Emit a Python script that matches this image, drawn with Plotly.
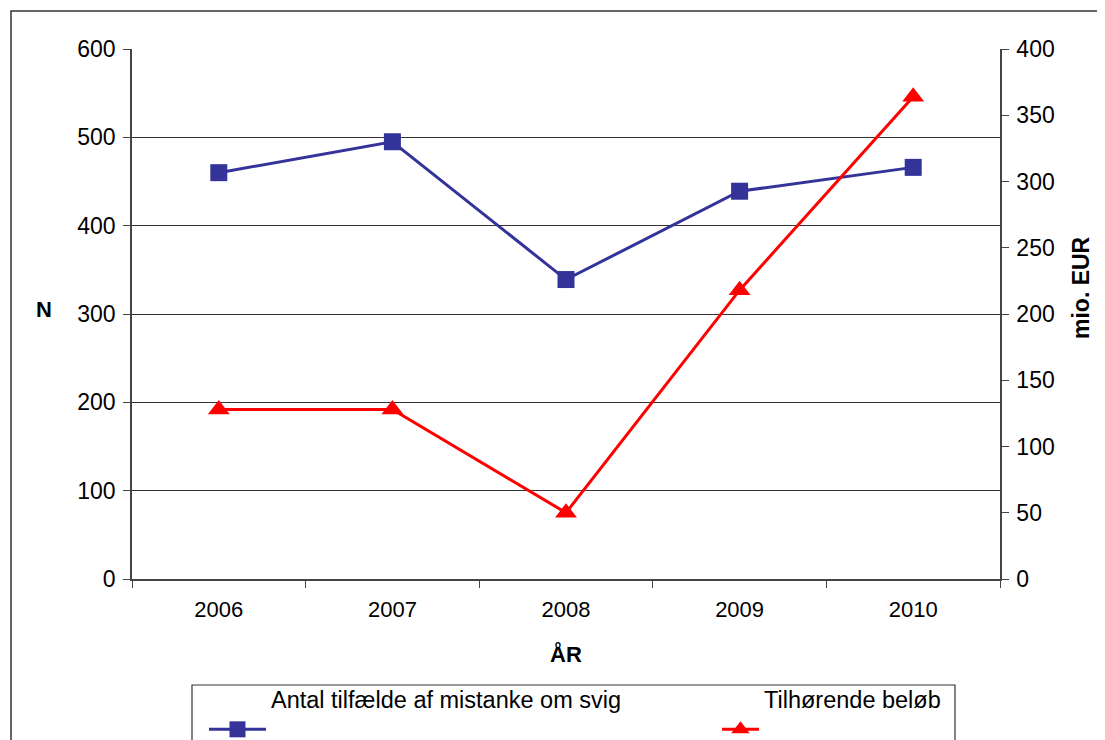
import plotly.graph_objects as go

years = ["2006", "2007", "2008", "2009", "2010"]
cases = [460, 495, 339, 439, 466]
amounts = [128, 128, 50, 218, 364]
left_ticks = [0, 100, 200, 300, 400, 500, 600]
right_ticks = [0, 50, 100, 150, 200, 250, 300, 350, 400]

FONT = "Liberation Sans, Arial, sans-serif"
FS = 23

# page has an 8px body margin; work in reference pixel coords and shift
OFF = 8
W, H = 1097, 732
L, R, T, B = 132 - OFF, 105, 49 - OFF, 161
pw, ph = W - L - R, H - T - B


def px(x):
    return (x - OFF - L) / pw


def py(y):
    return (H - B - (y - OFF)) / ph


fig = go.Figure()
fig.add_trace(go.Scatter(
    x=years, y=cases, name="Antal tilfælde af mistanke om svig<br> ",
    mode="lines+markers", legend="legend",
    line=dict(color="#333399", width=3),
    marker=dict(symbol="square", size=17, color="#333399"),
))
fig.add_trace(go.Scatter(
    x=years, y=amounts, name="Tilhørende beløb<br> ", yaxis="y2",
    mode="lines+markers", legend="legend2",
    line=dict(color="#FF0000", width=3),
    marker=dict(symbol="triangle-up", size=19, color="#FF0000"),
))

legend_common = dict(
    orientation="h", xanchor="left", yanchor="top",
    bgcolor="rgba(0,0,0,0)", borderwidth=0,
    font=dict(size=23.5, family=FONT), valign="bottom",
)

fig.update_layout(
    width=W, height=H,
    margin=dict(l=L, r=R, t=T, b=B, autoexpand=False),
    paper_bgcolor="white", plot_bgcolor="white",
    font=dict(family=FONT, size=FS, color="black"),
    showlegend=True,
    xaxis=dict(
        type="category", range=[-0.5, 4.5],
        showline=True, linecolor="#444", linewidth=2,
        ticks="outside", ticklen=7, tickcolor="#444",
        tickson="boundaries", showgrid=False,
        tickfont=dict(size=22), ticklabelstandoff=10,
        title=dict(text="<b>ÅR</b>", font=dict(size=22), standoff=25),
    ),
    yaxis=dict(
        range=[0, 600], tickvals=left_ticks,
        showline=True, linecolor="#444", linewidth=1.5,
        ticks="outside", ticklen=7, tickcolor="#444",
        showgrid=True, gridcolor="#333", gridwidth=1,
        zeroline=False, tickfont=dict(size=FS), ticklabelstandoff=3,
    ),
    yaxis2=dict(
        overlaying="y", side="right",
        range=[0, 400], tickvals=right_ticks,
        showline=True, linecolor="#444", linewidth=1.5,
        ticks="outside", ticklen=7, tickcolor="#444",
        showgrid=False, zeroline=False, tickfont=dict(size=FS),
        ticklabelstandoff=3,
    ),
    legend=dict(x=px(204), y=py(677), itemwidth=57, **legend_common),
    legend2=dict(x=px(717), y=py(677), itemwidth=37, **legend_common),
    annotations=[
        dict(text="<b>N</b>", x=px(44), y=py(309), xref="paper", yref="paper",
             xanchor="center", yanchor="middle",
             showarrow=False, font=dict(size=22)),
        dict(text="<b>mio. EUR</b>", x=px(1081), y=py(288), xref="paper", yref="paper",
             xanchor="center", yanchor="middle", textangle=-90,
             showarrow=False, font=dict(size=23)),
    ],
    shapes=[
        dict(type="rect", xref="paper", yref="paper",
             x0=px(11), x1=px(1250), y0=py(11), y1=py(820),
             line=dict(color="#333", width=1.5), layer="below"),
        dict(type="rect", xref="paper", yref="paper",
             x0=px(192), x1=px(955), y0=py(685), y1=py(780),
             line=dict(color="#333", width=1.2), layer="below"),
    ],
)

fig.write_html("out.html")
